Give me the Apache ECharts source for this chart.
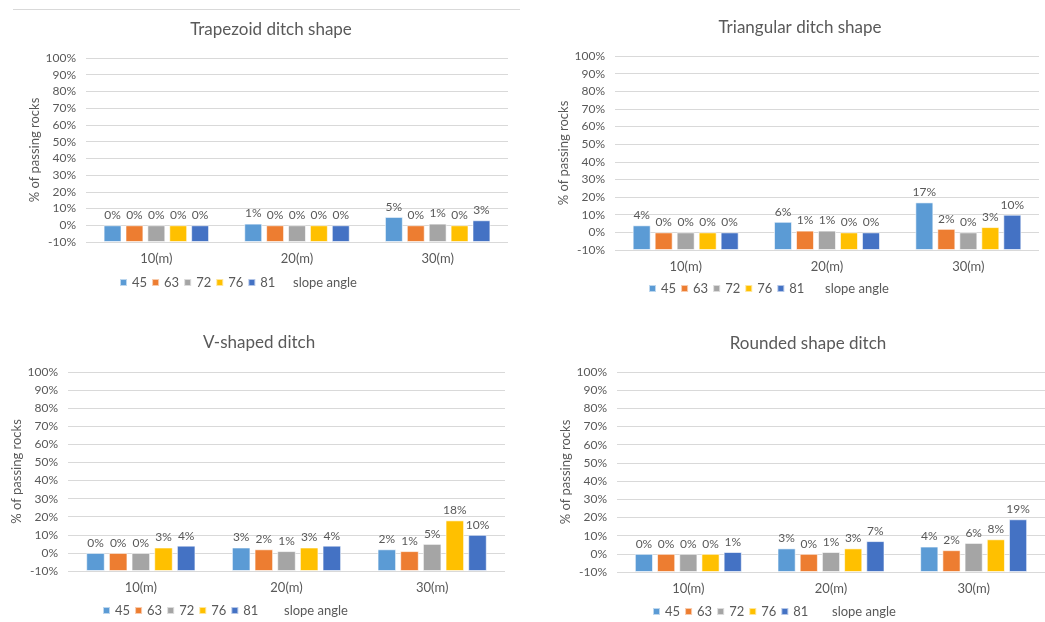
<!DOCTYPE html>
<html>
<head>
<meta charset="utf-8">
<script src="https://cdn.jsdelivr.net/npm/echarts@6/dist/echarts.min.js"></script>
<style>
  html, body { margin: 0; padding: 0; background: #fff; }
  #chart { width: 1045px; height: 622px; }
</style>
</head>
<body>
<div id="chart"></div>
<script>
const categories = ['10(m)', '20(m)', '30(m)']
const angles = ['45', '63', '72', '76', '81']
const yTicks = [-10, 0, 10, 20, 30, 40, 50, 60, 70, 80, 90, 100]
const chartTitles = ['Trapezoid ditch shape', 'Triangular ditch shape', 'V-shaped ditch', 'Rounded shape ditch']

// % of passing rocks, one row per slope angle, one value per distance
const trapezoid = [
  [0, 1, 5],
  [0, 0, 0],
  [0, 0, 1],
  [0, 0, 0],
  [0, 0, 3]
]
const triangular = [
  [4, 6, 17],
  [0, 1, 2],
  [0, 1, 0],
  [0, 0, 3],
  [0, 0, 10]
]
const vShaped = [
  [0, 3, 2],
  [0, 2, 1],
  [0, 1, 5],
  [3, 3, 18],
  [4, 4, 10]
]
const rounded = [
  [0, 3, 4],
  [0, 0, 2],
  [0, 1, 6],
  [0, 3, 8],
  [1, 7, 19]
]

const colors = ['#5B9BD5', '#ED7D31', '#A5A5A5', '#FFC000', '#4472C4']
const textColor = '#595959'
const font = 'Lato'

// panel layout (px); legendY / titleY are centre lines
const panels = [
  { data: trapezoid, left: 86, top: 58, width: 422, height: 184, titleX: 266, titleY: 31, legendX: 119, legendY: 284, nameX: 293 },
  { data: triangular, left: 615, top: 56, width: 424, height: 194, titleX: 795, titleY: 29, legendX: 648, legendY: 290, nameX: 825 },
  { data: vShaped, left: 68, top: 372, width: 437, height: 199, titleX: 254, titleY: 344, legendX: 102, legendY: 612, nameX: 284 },
  { data: rounded, left: 617, top: 372, width: 428, height: 200, titleX: 803, titleY: 345, legendX: 652, legendY: 613, nameX: 832 }
]

const chartInstance = echarts.init(document.getElementById('chart'), null, { renderer: 'canvas' })

const title = []
const grid = []
const xAxis = []
const yAxis = []
const legend = []
const series = []
const graphic = [
  { type: 'line', shape: { x1: 13, y1: 9.5, x2: 520, y2: 9.5 }, style: { stroke: '#d9d9d9', lineWidth: 1 } }
]

panels.forEach((p, i) => {
  title.push({
    text: chartTitles[i],
    left: p.titleX,
    top: p.titleY - 15,
    textAlign: 'center',
    textStyle: { color: textColor, fontSize: 17, fontWeight: 'normal', fontFamily: font }
  })
  grid.push({ left: p.left, top: p.top, width: p.width, height: p.height })
  xAxis.push({
    type: 'category',
    gridIndex: i,
    data: categories,
    axisLine: { show: false },
    axisTick: { show: false },
    axisLabel: { color: textColor, fontSize: 13, margin: 10, fontFamily: font }
  })
  yAxis.push({
    type: 'value',
    gridIndex: i,
    min: yTicks[0],
    max: yTicks[yTicks.length - 1],
    interval: 10,
    startValue: yTicks[0],
    name: '% of passing rocks',
    nameLocation: 'middle',
    nameGap: 42,
    nameTextStyle: { color: textColor, fontSize: 13, fontFamily: font },
    axisLine: { show: false },
    axisTick: { show: false },
    axisLabel: { color: textColor, fontSize: 12, margin: 10, fontFamily: font, formatter: '{value}%' },
    splitLine: { lineStyle: { color: '#d9d9d9', width: 1 } }
  })
  legend.push({
    data: angles,
    left: p.legendX,
    top: p.legendY - 8,
    padding: 0,
    itemWidth: 7,
    itemHeight: 7,
    itemGap: 4,
    icon: 'rect',
    selectedMode: false,
    textStyle: { color: textColor, fontSize: 13, fontFamily: font }
  })
  graphic.push({
    type: 'text',
    left: p.nameX,
    top: p.legendY - 8,
    style: { text: 'slope angle', fill: textColor, fontSize: 13, fontFamily: font }
  })
  angles.forEach((a, k) => {
    series.push({
      name: a,
      type: 'bar',
      xAxisIndex: i,
      yAxisIndex: i,
      data: p.data[k],
      barCategoryGap: '25%',
      barGap: '22%',
      itemStyle: { color: colors[k], borderColor: 'rgba(255,255,255,0.6)', borderWidth: 1 },
      label: {
        show: true,
        position: 'top',
        distance: 4,
        formatter: '{c}%',
        color: textColor,
        fontSize: 12,
        fontFamily: font
      }
    })
  })
})

chartInstance.setOption({
  animation: false,
  color: colors,
  title,
  grid,
  xAxis,
  yAxis,
  legend,
  graphic,
  series
})
</script>
</body>
</html>
